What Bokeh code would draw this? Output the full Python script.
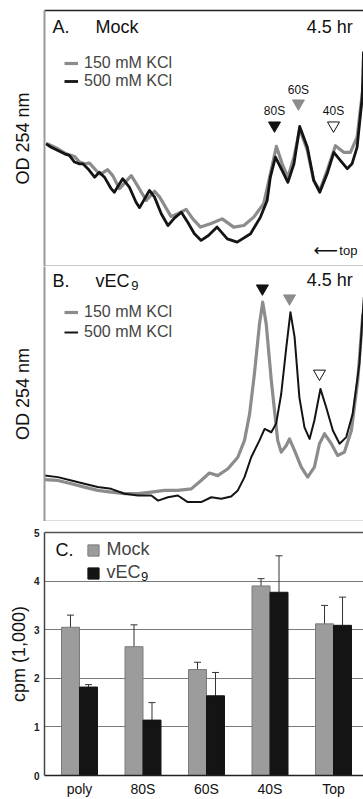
import numpy as np
from bokeh.plotting import figure
from bokeh.models import (Range1d, LinearAxis, FixedTicker, Label, Legend, LegendItem,
                          ColumnDataSource, Whisker, TeeHead)
from bokeh.layouts import column
from bokeh.transform import dodge
from bokeh.core.properties import value
from bokeh.embed import file_html
from bokeh.resources import INLINE

FONT = "Liberation Sans"
GRAY = "#8c8c8c"
BLACK = "#141414"

# ---------------- Panel A: Mock, 4.5 hr (x = % of gradient, y = relative OD 254) -----------
a150_x = [0.5, 4.2, 6.8, 9.4, 11.0, 12.5, 14.1, 16.7, 17.6, 19.8, 21.4, 23.5, 27.2, 28.8, 31.9,
          34.5, 36.1, 39.7, 41.8, 44.4, 46.5, 48.9, 52.0, 55.7, 59.3, 62.5, 65.6, 68.7, 70.8, 72.7,
          74.5, 76.3, 78.2, 80.0, 82.4, 84.4, 86.3, 88.6, 91.2, 93.8, 95.9, 98.0, 99.1, 100.1]
a150_y = [0.482, 0.460, 0.440, 0.430, 0.408, 0.401, 0.404, 0.368, 0.361, 0.378, 0.355, 0.304,
          0.355, 0.323, 0.258, 0.294, 0.271, 0.195, 0.206, 0.223, 0.186, 0.154, 0.167, 0.186,
          0.154, 0.160, 0.193, 0.245, 0.362, 0.469, 0.401, 0.349, 0.427, 0.537, 0.453, 0.336,
          0.297, 0.375, 0.472, 0.446, 0.446, 0.505, 0.622, 0.727]
a500_x = [0.5, 2.1, 6.3, 7.8, 9.4, 11.0, 12.0, 13.6, 15.7, 17.2, 18.8, 20.9, 21.9, 24.5, 26.6,
          28.7, 29.8, 32.9, 34.5, 36.6, 38.7, 40.8, 42.9, 44.9, 47.0, 49.1, 51.4, 54.1, 57.3, 60.4,
          64.6, 67.7, 69.8, 70.8, 72.4, 74.5, 76.3, 78.2, 80.0, 82.4, 84.4, 86.3, 88.6, 90.7, 92.8,
          94.9, 96.4, 98.0, 99.6, 100.0]
a500_y = [0.479, 0.466, 0.440, 0.434, 0.408, 0.401, 0.401, 0.382, 0.349, 0.368, 0.349, 0.304,
          0.290, 0.343, 0.310, 0.251, 0.230, 0.297, 0.271, 0.206, 0.160, 0.190, 0.212, 0.173,
          0.128, 0.102, 0.121, 0.154, 0.108, 0.095, 0.128, 0.193, 0.258, 0.349, 0.427, 0.375,
          0.329, 0.401, 0.547, 0.466, 0.336, 0.290, 0.362, 0.446, 0.414, 0.382, 0.401, 0.466,
          0.661, 0.840]

# ---------------- Panel B: vEC9, 4.5 hr ----------------------------------------------------
b150_x = [0, 4.2, 8.4, 12.5, 16.7, 20.9, 25.1, 29.3, 33.5, 37.6, 41.8, 46.0, 49.1, 51.7, 54.3,
          57.5, 60.6, 62.7, 64.3, 65.8, 67.4, 68.4, 69.5, 71.1, 73.1, 74.2, 75.8, 76.8, 78.4, 80.5,
          82.5, 84.6, 86.2, 87.8, 89.9, 91.9, 94.0, 96.2, 98.2, 99.8]
b150_y = [0.164, 0.161, 0.148, 0.135, 0.122, 0.115, 0.109, 0.109, 0.115, 0.122, 0.122, 0.128,
          0.161, 0.190, 0.180, 0.207, 0.252, 0.318, 0.422, 0.579, 0.775, 0.860, 0.775, 0.553,
          0.318, 0.272, 0.298, 0.324, 0.278, 0.213, 0.174, 0.213, 0.305, 0.344, 0.305, 0.259,
          0.272, 0.357, 0.553, 0.815]
b500_x = [0, 4.2, 8.4, 12.5, 16.7, 20.9, 25.1, 29.3, 33.5, 35.6, 38.7, 41.8, 44.9, 49.1, 52.3,
          55.4, 58.5, 60.6, 62.7, 64.8, 67.4, 69.0, 71.1, 72.6, 74.2, 75.8, 77.1, 78.4, 79.9, 81.5,
          83.1, 84.6, 86.5, 88.3, 90.4, 92.5, 94.6, 96.6, 98.7, 100.1]
b500_y = [0.180, 0.174, 0.161, 0.148, 0.135, 0.128, 0.109, 0.102, 0.102, 0.082, 0.095, 0.102,
          0.076, 0.076, 0.095, 0.089, 0.098, 0.122, 0.174, 0.252, 0.318, 0.363, 0.350, 0.383,
          0.500, 0.683, 0.821, 0.723, 0.487, 0.369, 0.324, 0.396, 0.520, 0.448, 0.357, 0.305,
          0.331, 0.422, 0.618, 0.880]

# peak markers (80S, 60S, 40S)
peak_names = ["80S", "60S", "40S"]
peak_fill = ["#111111", "#8c8c8c", "#ffffff"]
peak_line = ["#111111", "#8c8c8c", "#111111"]
a_peak_x = [72.1, 79.6, 90.6]
a_peak_y = [0.551, 0.637, 0.551]
a_name_y = [0.609, 0.688, 0.609]
b_peak_x = [68.3, 76.8, 86.2]
b_peak_y = [0.914, 0.875, 0.580]

# ---------------- Panel C: cpm (1,000) per fraction ---------------------------------------
fractions = ["poly", "80S", "60S", "40S", "Top"]
mock_cpm = [3.05, 2.65, 2.18, 3.90, 3.12]
mock_sd = [0.25, 0.45, 0.15, 0.15, 0.38]
vec_cpm = [1.82, 1.14, 1.64, 3.77, 3.09]
vec_sd = [0.05, 0.36, 0.48, 0.75, 0.58]
cpm_ticks = [0, 1, 2, 3, 4, 5]

W = 363


def bare_axis(color, width):
    ax = LinearAxis(ticker=FixedTicker(ticks=[]), axis_line_color=color,
                    axis_line_width=width, major_tick_out=0, major_tick_in=0,
                    minor_tick_out=0, minor_tick_in=0, major_label_standoff=0)
    return ax


def profile(height, top, x150, y150, x500, y500, w500, with_top_axis, bottom_color):
    p = figure(width=W, height=height, x_range=Range1d(0, 100), y_range=Range1d(0, 1),
               output_backend="svg", toolbar_location=None,
               x_axis_location=None, y_axis_location=None,
               min_border_left=44, min_border_right=0, min_border_top=top,
               min_border_bottom=0)
    p.grid.visible = False
    p.outline_line_color = None
    left = bare_axis("#999999", 2)
    left.axis_label = "OD 254 nm"
    left.axis_label_text_font = FONT
    left.axis_label_text_font_size = "18px"
    left.axis_label_text_font_style = "normal"
    left.axis_label_text_color = "#111111"
    left.axis_label_standoff = 12
    p.add_layout(left, "left")
    if with_top_axis:
        p.add_layout(bare_axis("#222222", 1.5), "above")
    p.add_layout(bare_axis(bottom_color, 1.5), "below")
    r1 = p.line(x150, y150, line_color=GRAY, line_width=3.2, line_join="round")
    r2 = p.line(x500, y500, line_color=BLACK, line_width=w500, line_join="round")
    return p, r1, r2


def title(p, x, y, text, size="18px", align="left"):
    p.add_layout(Label(x=x, y=y, text=text, text_font=FONT, text_font_size=size,
                       text_baseline="middle", text_align=align, text_color="#111111"))


# ---- Panel A
pa, ra1, ra2 = profile(266, 10, a150_x, a150_y, a500_x, a500_y, 2.8, True, "#333333")
pa.scatter(a_peak_x, a_peak_y, marker="inverted_triangle", size=12,
           fill_color=peak_fill, line_color=peak_line, line_width=1)
pa.text(a_peak_x, a_name_y, text=peak_names, text_font=value(FONT), text_font_size="12px",
        text_align="center", text_baseline="middle", text_color="#111111")
title(pa, 2.5, 0.934, "A.")
title(pa, 16.0, 0.934, "Mock")
title(pa, 96.6, 0.9375, "4.5 hr", align="right")
title(pa, 98.1, 0.0625, "top", size="13px", align="right")
pa.add_layout(Label(x=92.0, y=0.066, text="\u27f5", text_font="DejaVu Sans",
                    text_font_size="17px", text_baseline="middle", text_align="right",
                    text_color="#111111"))
leg_a = Legend(items=[LegendItem(label="150 mM KCl", renderers=[ra1]),
                      LegendItem(label="500 mM KCl", renderers=[ra2])],
               location=(20, 176), padding=0, margin=0, spacing=-2,
               glyph_width=14, glyph_height=18, label_height=16, label_standoff=6,
               label_text_font=FONT, label_text_font_size="16px",
               background_fill_alpha=0, border_line_color=None)
pa.add_layout(leg_a)

# ---- Panel B
pb, rb1, rb2 = profile(255, 0, b150_x, b150_y, b500_x, b500_y, 2.0, False, "#777777")
pb.scatter(b_peak_x, b_peak_y, marker="inverted_triangle", size=12,
           fill_color=peak_fill, line_color=peak_line, line_width=1)
title(pb, 2.5, 0.945, "B.")
title(pb, 16.0, 0.945, "vEC")
title(pb, 27.2, 0.925, "9", size="13px")
title(pb, 96.6, 0.949, "4.5 hr", align="right")
leg_b = Legend(items=[LegendItem(label="150 mM KCl", renderers=[rb1]),
                      LegendItem(label="500 mM KCl", renderers=[rb2])],
               location=(20, 179), padding=0, margin=0, spacing=0,
               glyph_width=14, glyph_height=20, label_height=20, label_standoff=6,
               label_text_font=FONT, label_text_font_size="16px",
               background_fill_alpha=0, border_line_color=None)
pb.add_layout(leg_b)

# ---- Panel C
pc = figure(width=W, height=278, x_range=Range1d(-0.551, 4.472),
            y_range=Range1d(cpm_ticks[0], cpm_ticks[-1]),
            output_backend="svg", toolbar_location=None,
            min_border_left=44, min_border_right=0, min_border_top=11, min_border_bottom=22)
pc.outline_line_color = None
pc.xgrid.visible = False
pc.ygrid.ticker = FixedTicker(ticks=cpm_ticks[1:-1])
pc.ygrid.grid_line_color = "#7a7a7a"
pc.ygrid.grid_line_width = 1

pos = list(range(len(fractions)))
src = ColumnDataSource(dict(
    pos=pos, mock=mock_cpm, vec=vec_cpm,
    mock_lo=[m - s for m, s in zip(mock_cpm, mock_sd)],
    mock_hi=[m + s for m, s in zip(mock_cpm, mock_sd)],
    vec_lo=[m - s for m, s in zip(vec_cpm, vec_sd)],
    vec_hi=[m + s for m, s in zip(vec_cpm, vec_sd)],
))
off = 0.1417
bw = 0.283
rc1 = pc.vbar(x=dodge("pos", -off), top="mock", width=bw, source=src,
              fill_color="#9c9c9c", line_color="#7a7a7a", line_width=1)
rc2 = pc.vbar(x=dodge("pos", off), top="vec", width=bw, source=src,
              fill_color="#141414", line_color="#141414", line_width=1)
for key, dx in (("mock", -off), ("vec", off)):
    pc.add_layout(Whisker(base=dodge("pos", dx), upper=key + "_hi", lower=key + "_lo",
                          source=src, line_color="#333333", line_width=1,
                          upper_head=TeeHead(size=7, line_color="#333333", line_width=1),
                          lower_head=TeeHead(size=7, line_color="#333333", line_width=1)))

pc.xaxis.ticker = FixedTicker(ticks=pos)
pc.xaxis.major_label_overrides = {i: f for i, f in zip(pos, fractions)}
pc.xaxis.major_label_text_font = FONT
pc.xaxis.major_label_text_font_size = "14px"
pc.xaxis.major_label_text_color = "#111111"
pc.xaxis.major_label_standoff = 5
pc.xaxis.major_tick_out = 0
pc.xaxis.major_tick_in = 0
pc.xaxis.minor_tick_out = 0
pc.xaxis.axis_line_color = "#222222"
pc.xaxis.axis_line_width = 1.5

pc.yaxis.ticker = FixedTicker(ticks=cpm_ticks)
pc.yaxis.major_label_text_font = FONT
pc.yaxis.major_label_text_font_size = "10px"
pc.yaxis.major_label_text_font_style = "bold"
pc.yaxis.major_label_text_color = "#222222"
pc.yaxis.major_label_standoff = 5
pc.yaxis.major_tick_out = 0
pc.yaxis.major_tick_in = 0
pc.yaxis.minor_tick_out = 0
pc.yaxis.minor_tick_in = 0
pc.yaxis.axis_line_color = "#444444"
pc.yaxis.axis_line_width = 1.5
pc.yaxis.axis_label = "cpm (1,000)"
pc.yaxis.axis_label_text_font = FONT
pc.yaxis.axis_label_text_font_size = "18px"
pc.yaxis.axis_label_text_font_style = "normal"
pc.yaxis.axis_label_text_color = "#111111"
pc.yaxis.axis_label_standoff = 2
pc.add_layout(bare_axis("#555555", 1.5), "above")

leg_c = Legend(items=[LegendItem(label="Mock", renderers=[rc1]),
                      LegendItem(label="vEC", renderers=[rc2])],
               location=(41.6, 192), padding=0, margin=0, spacing=2,
               glyph_width=14, glyph_height=14, label_height=14, label_standoff=7,
               label_text_font=FONT, label_text_font_size="18px",
               background_fill_alpha=0, border_line_color=None)
pc.add_layout(leg_c)
title(pc, -0.378, 4.63, "C.")
title(pc, 0.969, 4.10, "9", size="13px")

layout = column(pa, pb, pc, spacing=0)
open("out.html", "w").write(file_html(layout, INLINE))
